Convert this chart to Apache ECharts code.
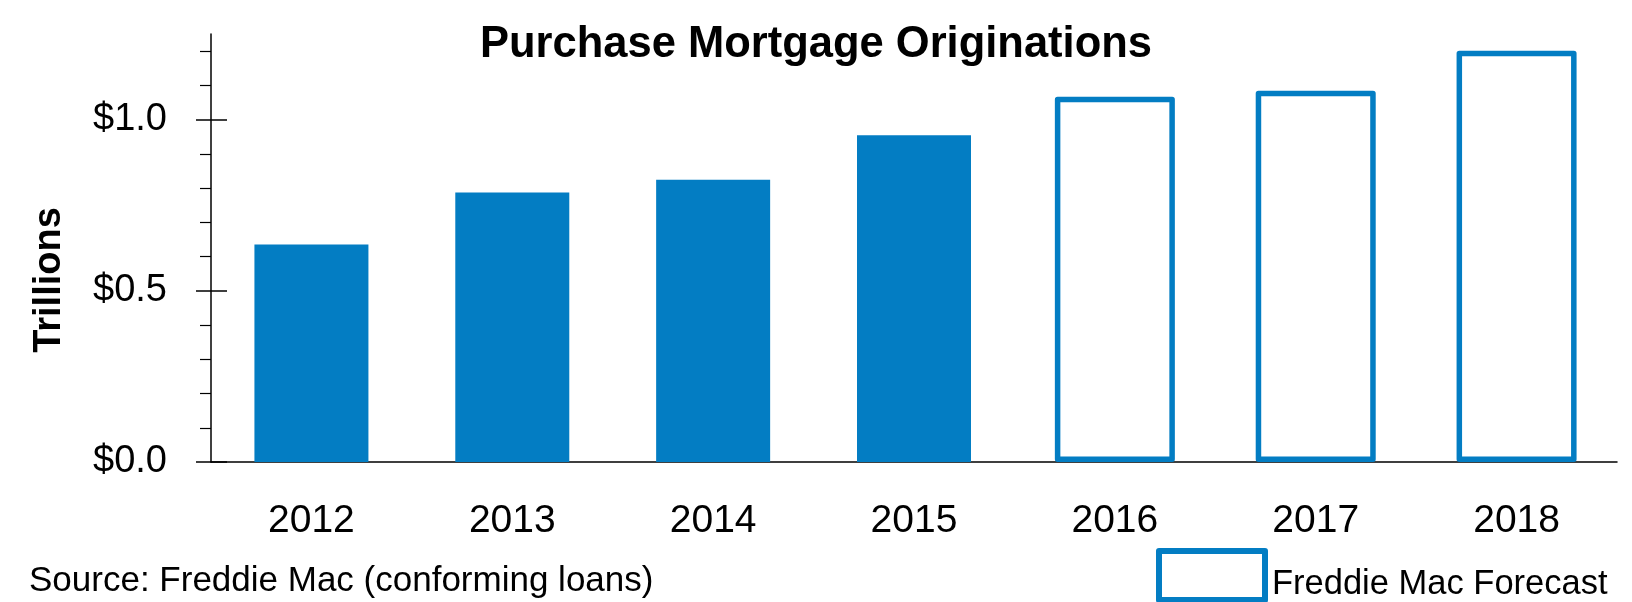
<!DOCTYPE html>
<html>
<head>
<meta charset="utf-8">
<script src="https://cdn.jsdelivr.net/npm/echarts@6/dist/echarts.min.js"></script>
<style>html,body{margin:0;padding:0;background:#fff}#c{width:1632px;height:602px}</style>
</head>
<body>
<div id="c"></div>
<script>
const categories = ['2012', '2013', '2014', '2015', '2016', '2017', '2018'];
const actual = [0.635, 0.787, 0.824, 0.954, null, null, null];
const forecast = [null, null, null, null, 1.067, 1.084, 1.201];
const majorTicks = [0, 0.5, 1.0];
const minorTicks = [0.1, 0.2, 0.3, 0.4, 0.6, 0.7, 0.8, 0.9, 1.1, 1.2];

const FONT = "'Liberation Sans Narrow', 'Arial Narrow', 'Liberation Sans', Arial, sans-serif";
const BLUE = '#037dc3';
const chart = echarts.init(document.getElementById('c'), null, {renderer: 'canvas'});
const yBase = {type: 'value', min: 0, max: 1.25, position: 'left', splitLine: {show: false}};
chart.setOption({
  animation: false,
  backgroundColor: '#fff',
  title: [
    {text: 'Purchase Mortgage Originations', left: 'center', top: 23, padding: 0,
     textStyle: {fontFamily: FONT, fontSize: 43.5, fontWeight: 'bold', color: '#000'}},
    {text: 'Source: Freddie Mac (conforming loans)', left: 29, top: 564, padding: 0,
     textStyle: {fontFamily: FONT, fontSize: 35, fontWeight: 'normal', color: '#000'}}
  ],
  legend: {
    data: ['Freddie Mac Forecast'], left: 1156, top: 548, padding: 0,
    itemWidth: 106, itemHeight: 49, icon: 'rect',
    itemStyle: {color: '#fff', borderColor: BLUE, borderWidth: 6},
    formatter: '{t|{name}}',
    textStyle: {fontFamily: FONT, fontSize: 34.5, color: '#000', padding: [0, 0, 0, 2],
      rich: {t: {fontFamily: FONT, fontSize: 34.5, color: '#000', padding: [18, 0, 0, 0]}}}
  },
  graphic: [{
    type: 'text', x: 50, y: 280, rotation: Math.PI / 2,
    style: {text: 'Trillions', fontFamily: FONT, fontSize: 38, fontWeight: 'bold', fill: '#000',
            textAlign: 'center', textVerticalAlign: 'middle'}
  }],
  grid: {left: 211, right: 15, top: 34, bottom: 140, containLabel: false},
  xAxis: [
    {
      type: 'category', data: categories,
      axisLine: {show: true, lineStyle: {color: '#000', width: 1.5}},
      axisTick: {show: false},
      axisLabel: {fontFamily: FONT, fontSize: 39, color: '#000', margin: 40}
    },
    {type: 'category', data: categories, show: false}
  ],
  yAxis: [
    Object.assign({}, yBase, {
      axisLine: {show: true, lineStyle: {color: '#000', width: 1.5}},
      axisTick: {show: true, length: 15, customValues: majorTicks, lineStyle: {color: '#000', width: 1.5}},
      axisLabel: {show: true, customValues: majorTicks, margin: 44, fontFamily: FONT, fontSize: 38, color: '#000',
                  formatter: v => '$' + v.toFixed(1)}
    }),
    Object.assign({}, yBase, {
      axisLine: {show: false},
      axisTick: {show: true, inside: true, length: 16, customValues: majorTicks, lineStyle: {color: '#000', width: 1.5}},
      axisLabel: {show: false}
    }),
    Object.assign({}, yBase, {
      axisLine: {show: false},
      axisTick: {show: true, length: 11, customValues: minorTicks, lineStyle: {color: '#000', width: 1.2}},
      axisLabel: {show: false}
    })
  ],
  series: [
    {name: 'Actual', type: 'bar', data: actual, barWidth: 114, xAxisIndex: 0, yAxisIndex: 0,
     itemStyle: {color: BLUE}},
    {name: 'Freddie Mac Forecast', type: 'bar', data: forecast, barWidth: 120, xAxisIndex: 1, yAxisIndex: 0,
     itemStyle: {color: '#fff', borderColor: BLUE, borderWidth: 5.5, borderJoin: 'round'}}
  ]
});
</script>
</body>
</html>
